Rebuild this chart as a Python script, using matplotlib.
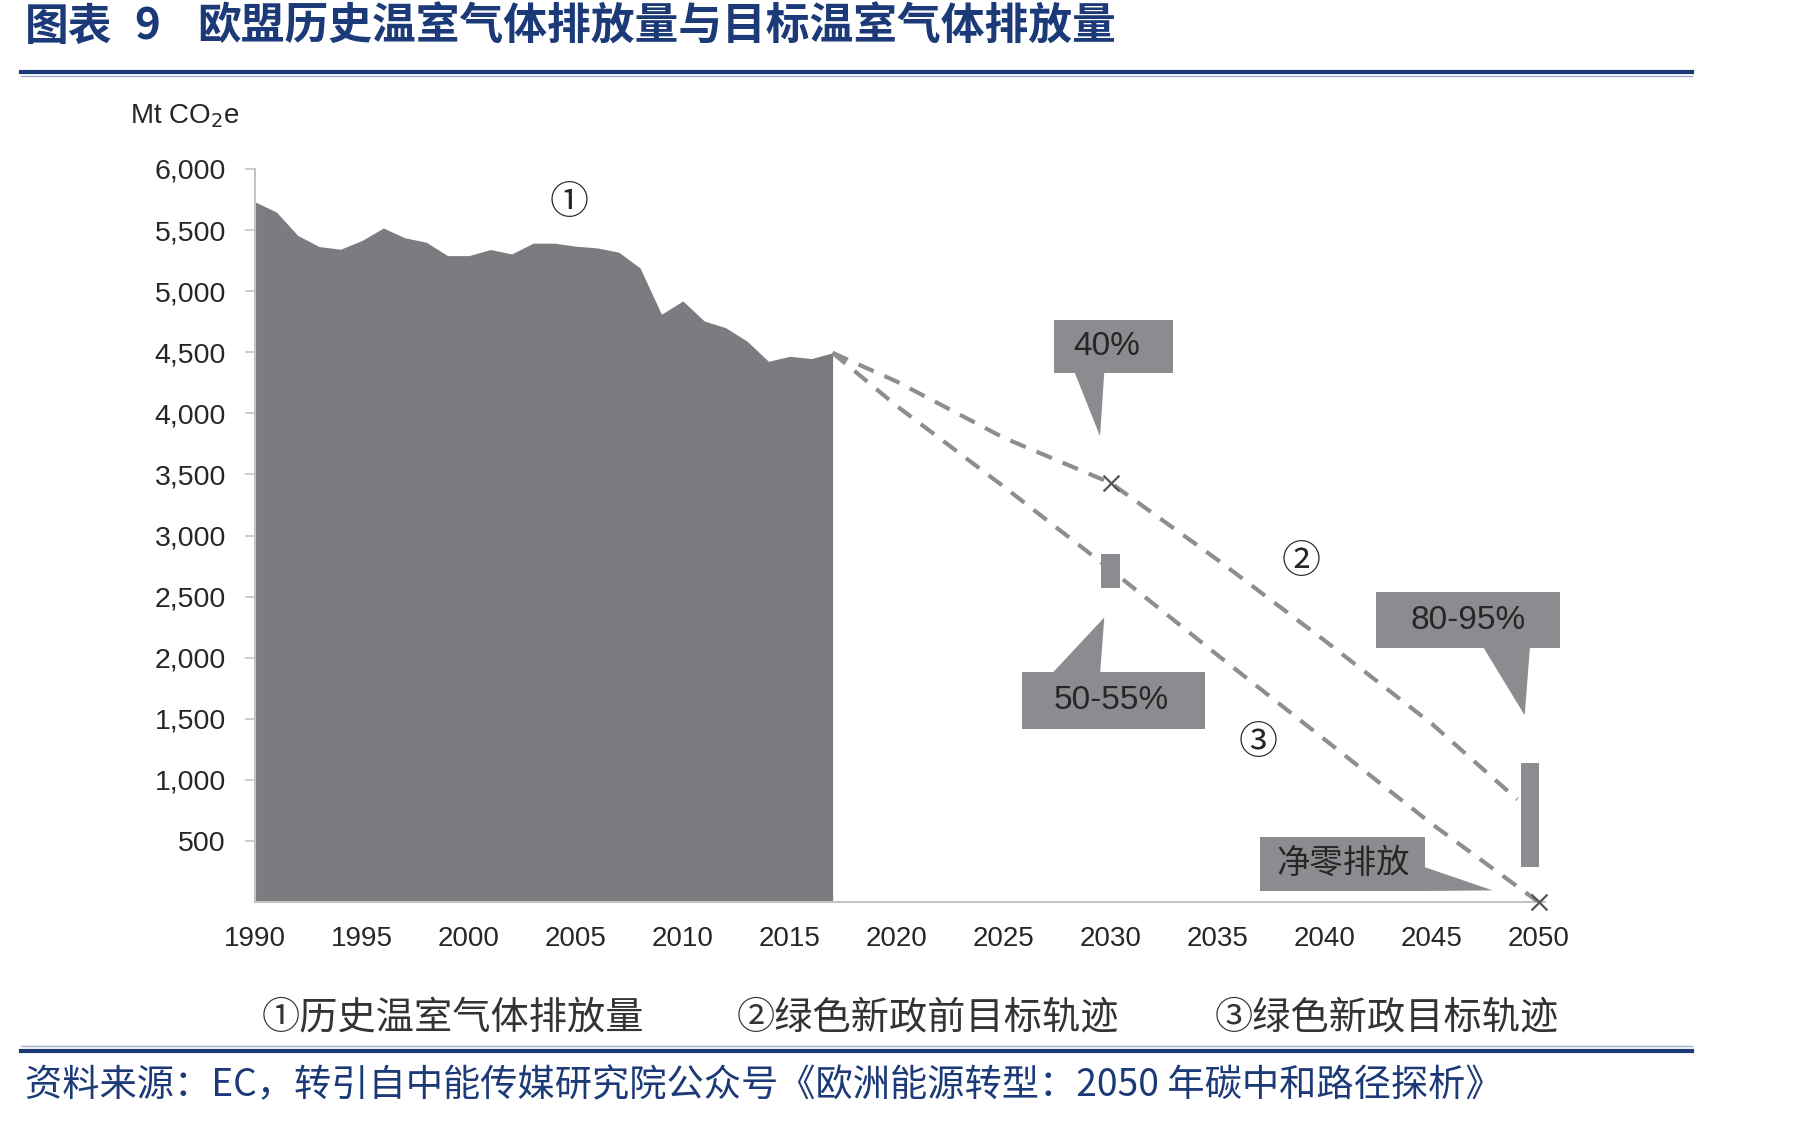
import matplotlib
matplotlib.use("Agg")
import matplotlib.pyplot as plt
from matplotlib.patches import Rectangle, Polygon
from matplotlib.lines import Line2D

plt.rcParams['font.family'] = ['Noto Sans CJK SC', 'DejaVu Sans']

# historical EU greenhouse gas emissions, Mt CO2e
hist_years = list(range(1990, 2018))
hist_values = [5731, 5648, 5456, 5365, 5343, 5415, 5517, 5437, 5401, 5291,
               5291, 5341, 5305, 5393, 5393, 5368, 5354, 5319, 5190, 4811,
               4920, 4756, 4701, 4591, 4426, 4467, 4448, 4495]

# trajectory 2: target before the Green Deal
pre_years = [2017, 2020, 2025, 2030, 2035, 2040, 2045, 2049]
pre_values = [4495, 4260, 3800, 3430, 2800, 2140, 1460, 840]

# trajectory 3: Green Deal target
gd_years = [2017, 2020, 2025, 2030, 2035, 2040, 2045, 2050]
gd_values = [4495, 4060, 3400, 2720, 2020, 1330, 640, 0]

# target markers and ranges
mark_years = [2030, 2050]
mark_values = [3430, 0]
range_years = [2030, 2049.6]
range_low = [2570, 290]
range_high = [2850, 1140]

y_ticks = [500, 1000, 1500, 2000, 2500, 3000, 3500, 4000, 4500, 5000, 5500, 6000]
x_ticks = list(range(1990, 2051, 5))

legend_items = ['①历史温室气体排放量', '②绿色新政前目标轨迹', '③绿色新政目标轨迹']

W, H = 1801, 1121
fig = plt.figure(figsize=(W / 100, H / 100), dpi=100)

x0, x1, y0, y1 = 255, 1545, 169, 902
ax = fig.add_axes([x0 / W, 1 - y1 / H, (x1 - x0) / W, (y1 - y0) / H])
ax.set_xlim(1990, 2050.3)
ax.set_ylim(0, 6000)

fill_c = '#7b7c80'
box_c = '#8b8c8f'
dash_c = '#8e8e8e'
txt_c = '#262626'

ax.fill_between(hist_years, hist_values, 0, color=fill_c, lw=0, zorder=2)

ax.plot(pre_years, pre_values, color=dash_c, lw=3, dashes=(4, 2.8), zorder=3)
ax.plot(gd_years, gd_values, color=dash_c, lw=3, dashes=(4, 2.8), zorder=3)

ax.bar(range_years, [h - l for h, l in zip(range_high, range_low)],
       bottom=range_low, width=[0.9, 0.8], color=box_c, zorder=4)
ax.scatter(mark_years, mark_values, marker='x', s=130, color='#555555',
           linewidths=1.6, zorder=5, clip_on=False)

for s in ['top', 'right']:
    ax.spines[s].set_visible(False)
for s in ['left', 'bottom']:
    ax.spines[s].set_color('#c4c4c4')
    ax.spines[s].set_linewidth(1.5)

ax.set_yticks(y_ticks)
ax.set_yticklabels([f'{v:,}' for v in y_ticks])
ax.set_xticks(x_ticks)
ax.tick_params(axis='y', length=7, width=1.2, color='#c4c4c4', pad=14,
               labelsize=20.5, labelcolor=txt_c)
ax.tick_params(axis='x', length=0, pad=17, labelsize=20, labelcolor=txt_c)
for lab in ax.get_xticklabels() + ax.get_yticklabels():
    lab.set_family('Liberation Sans')

fig.text(130 / W, 1 - 116 / H, 'Mt CO$_2$e', fontsize=20, color=txt_c,
         family='Liberation Sans', va='center', ha='left')


# callouts (box + pointer), in data coordinates
def callout(box, pointer, label, fs=24, dx=0.0):
    bx0, bx1, by0, by1 = box
    ax.add_patch(Rectangle((bx0, by0), bx1 - bx0, by1 - by0, color=box_c,
                           lw=0, zorder=6, clip_on=False))
    ax.add_patch(Polygon(pointer, closed=True, color=box_c, lw=0, zorder=6,
                         clip_on=False))
    ax.text((bx0 + bx1) / 2 + dx, (by0 + by1) / 2, label, fontsize=fs,
            color=txt_c, ha='center', va='center', zorder=7,
            family=['Liberation Sans', 'Noto Sans CJK SC'])


callout((2027.35, 2032.9, 4330, 4765),
        [(2028.3, 4340), (2029.7, 4340), (2029.5, 3813)], '40%', dx=-0.3)
callout((2025.85, 2034.4, 1420, 1880),
        [(2027.2, 1860), (2029.5, 1860), (2029.7, 2330)], '50-55%', dx=-0.1)
callout((2042.4, 2051.0, 2076, 2534),
        [(2047.4, 2090), (2049.6, 2090), (2049.35, 1528)], '80-95%')
callout((2037.0, 2044.7, 90, 531),
        [(2044.6, 290), (2044.6, 90), (2047.85, 95)], '净零排放')

# circled trajectory labels
for xv, yv, s in [(2004.7, 5722, '①'), (2038.9, 2779, '②'), (2036.9, 1300, '③')]:
    ax.text(xv, yv, s, fontsize=28, color=txt_c, ha='center', va='center',
            zorder=7)

# title and rules
navy = '#1c3a78'
fig.text(25 / W, 1 - 27 / H, '图表', fontsize=31.5, weight='bold', color=navy,
         va='center', ha='left')
fig.text(134 / W, 1 - 27 / H, '9', fontsize=31.5, weight='bold', color=navy,
         va='center', ha='left')
fig.text(197 / W, 1 - 27 / H, '欧盟历史温室气体排放量与目标温室气体排放量',
         fontsize=31.5, weight='bold', color=navy, va='center', ha='left')

for yy, lw, c in [(72, 3.0, navy), (76, 1.0, '#9fb0cc'),
                  (1051, 3.0, navy), (1046, 1.0, '#9fb0cc')]:
    fig.add_artist(Line2D([21 / W, 1692 / W], [1 - yy / H, 1 - yy / H],
                          color=c, lw=lw))

# legend-style captions
for xp, s in zip([262, 737, 1215], legend_items):
    fig.text(xp / W, 1 - 1018 / H, s, fontsize=27.5, color='#333333',
             va='center', ha='left')

fig.text(25 / W, 1 - 1086 / H,
         '资料来源：EC，转引自中能传媒研究院公众号《欧洲能源转型：2050 年碳中和路径探析》',
         fontsize=26.8, color=navy, style='italic', va='center', ha='left')

fig.savefig('out.png', dpi=100)
